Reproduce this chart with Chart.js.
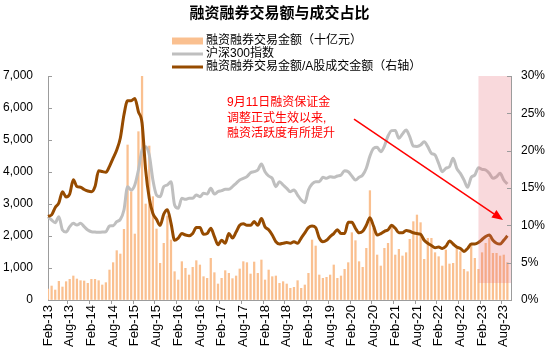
<!DOCTYPE html>
<html>
<head>
<meta charset="utf-8">
<script src="https://cdn.jsdelivr.net/npm/chart.js@4"></script>
<style>
  html, body { margin: 0; padding: 0; background: #fff; }
  #wrap { width: 547px; height: 354px; }
</style>
</head>
<body>
<div id="wrap"><canvas id="chart" width="547" height="354"></canvas></div>
<script>
const FONT = "'Liberation Sans', Arial, 'Noto Sans CJK SC', sans-serif";
const AXIS = '#9c9c9c';

// monthly categories, Feb-13 .. Oct-23
const monthNames = ['Jan', 'Feb', 'Mar', 'Apr', 'May', 'Jun', 'Jul', 'Aug', 'Sep', 'Oct', 'Nov', 'Dec'];
const allMonths = [];
for (let yr = 13; yr <= 23; yr++) {
  monthNames.forEach(m => allMonths.push(m + '-' + yr));
}
const categories = allMonths.slice(1, 130);

const xTickLabels = ['Feb-13', 'Aug-13', 'Feb-14', 'Aug-14', 'Feb-15', 'Aug-15', 'Feb-16', 'Aug-16',
  'Feb-17', 'Aug-17', 'Feb-18', 'Aug-18', 'Feb-19', 'Aug-19', 'Feb-20', 'Aug-20', 'Feb-21', 'Aug-21',
  'Feb-22', 'Aug-22', 'Feb-23', 'Aug-23'];

// 融资融券交易金额（十亿元）, from Feb-13
const marginAmount = [
  344, 437, 312, 583, 406, 573, 646, 750, 656, 604, 594, 521,
  646, 646, 604, 469, 542, 937, 1167, 1542, 1437, 2208, 4844, 3385,
  2062, 5260, 7400, 3000, 4812, 3229, 2219, 1146, 1771, 2625, 1875, 885,
  625, 1198, 990, 781, 1021, 1229, 1094, 729, 677, 1302, 854, 500,
  677, 917, 833, 667, 750, 969, 1198, 1167, 812, 1187, 833, 1250,
  625, 937, 729, 750, 521, 573, 500, 365, 396, 604, 365, 469,
  833, 1875, 1687, 781, 677, 708, 781, 1094, 677, 750, 958, 1167,
  2104, 1854, 1198, 1021, 1615, 3417, 2240, 1406, 1062, 1615, 1771, 2300,
  1406, 1583, 1375, 1479, 1896, 2448, 2656, 2417, 1271, 1927, 1927, 1479,
  1354, 1062, 1562, 1125, 1146, 1615, 1510, 958, 885, 1750, 1302, 958,
  1479, 1771, 1927, 1458, 1458, 1375, 1406, 1167
];

// 沪深300指数
const hs300 = [
  2604, 2500, 2417, 2604, 2187, 2125, 2292, 2396, 2344, 2396, 2292, 2187,
  2135, 2125, 2115, 2125, 2135, 2312, 2322, 2448, 2520, 2812, 3542, 3437,
  3594, 4062, 4687, 4792, 4531, 3750, 3281, 3229, 3542, 3594, 3698, 2969,
  2864, 3177, 3146, 3177, 3177, 3281, 3229, 3333, 3312, 3490, 3312, 3385,
  3417, 3458, 3458, 3542, 3646, 3750, 3802, 3854, 3979, 4010, 4062, 4250,
  4010, 3875, 3802, 3542, 3698, 3594, 3490, 3385, 3437, 3281, 3125, 3042,
  3437, 3625, 3698, 3698, 3833, 3802, 3854, 3833, 3875, 3906, 4042, 4010,
  3875, 3750, 3833, 3906, 4115, 4500, 4740, 4771, 4635, 4812, 5125, 5292,
  5300, 5052, 5187, 5312, 5104, 4812, 4800, 4840, 4948, 4792, 4583, 4531,
  4271, 4010, 4115, 4167, 4427, 4115, 3958, 3750, 3521, 3833, 3906, 4135,
  4083, 4062, 3958, 3802, 3854, 3958, 3750, 3625
];

// 融资融券交易金额/A股成交金额 (%)
const marginRatio = [
  11.2, 11.4, 12.4, 13.0, 14.5, 13.8, 14.2, 16.1, 15.2, 15.1, 14.8, 14.6,
  14.5, 15.2, 17.3, 17.2, 17.1, 17.9, 19.0, 20.1, 21.7, 24.8, 26.7, 26.7,
  27.0, 25.2, 23.7, 17.4, 13.6, 11.6, 10.8, 10.0, 11.5, 12.1, 10.3, 8.0,
  8.3, 8.9, 8.7, 8.6, 8.9, 9.7, 9.7, 8.8, 8.9, 9.6, 8.5, 7.4,
  8.0, 7.6, 8.9, 8.3, 9.1, 10.0, 10.2, 10.0, 10.0, 10.5, 10.0, 10.9,
  9.8, 9.4, 8.7, 7.8, 7.5, 7.6, 7.7, 7.6, 7.8, 7.6, 8.3, 9.0,
  9.7, 9.9, 9.7, 8.3, 7.8, 8.0, 8.5, 8.9, 9.4, 8.9, 8.9, 10.4,
  10.4, 9.6, 9.0, 9.2, 10.0, 11.0, 9.9, 8.7, 8.9, 9.2, 9.4, 10.0,
  9.6, 9.0, 9.0, 9.3, 9.2, 9.0, 8.9, 8.8, 8.0, 7.6, 7.3, 7.0,
  7.1, 6.9, 7.2, 7.9, 7.5, 7.1, 6.9, 6.5, 6.9, 7.5, 7.5, 7.7,
  8.1, 8.5, 8.7, 8.0, 7.6, 7.5, 8.0, 8.6
];

const seriesNames = ['融资融券交易金额（十亿元）', '沪深300指数', '融资融券交易金额/A股成交金额（右轴）'];
const noteLines = ['9月11日融资保证金', '调整正式生效以来,', '融资活跃度有所提升'];

// annotation anchors in data units (category index, left-axis value)
const shadeFrom = 'Jan-23';
const shadeRange = [530, 7000];
const notePos = [49.5, 6160];
const arrowFrom = [84.6, 5650];
const arrowTo = [125.8, 2500];

const colors = { bar: '#FAC090', hs: '#BFBFBF', ratio: '#964B00' };

Chart.defaults.font.family = FONT;
Chart.defaults.color = '#000';

const overlay = {
  id: 'overlay',
  afterDatasetsDraw(chart) {
    const { ctx, chartArea } = chart;
    const x = chart.scales.x, y = chart.scales.y;
    const left = x.getPixelForValue(categories.indexOf(shadeFrom));
    const top = y.getPixelForValue(shadeRange[1]);
    const bottom = y.getPixelForValue(shadeRange[0]);
    ctx.save();
    ctx.fillStyle = 'rgba(232,108,120,0.26)';
    ctx.fillRect(left, top, chartArea.right - left, bottom - top);
    ctx.restore();
  },
  afterDraw(chart) {
    const { ctx, chartArea } = chart;
    const x = chart.scales.x, y = chart.scales.y, y1 = chart.scales.y1;
    ctx.save();

    // tick marks pointing into the plot
    ctx.strokeStyle = AXIS;
    ctx.lineWidth = 1;
    y.ticks.forEach((t, i) => {
      const py = Math.round(y.getPixelForTick(i)) + 0.5;
      ctx.beginPath();
      ctx.moveTo(chartArea.left, py);
      ctx.lineTo(chartArea.left + 4, py);
      ctx.stroke();
    });
    y1.ticks.forEach((t, i) => {
      const py = Math.round(y1.getPixelForTick(i)) + 0.5;
      ctx.beginPath();
      ctx.moveTo(chartArea.right, py);
      ctx.lineTo(chartArea.right - 4, py);
      ctx.stroke();
    });

    // title
    ctx.fillStyle = '#000';
    ctx.font = 'bold 15px ' + FONT;
    ctx.textAlign = 'center';
    ctx.textBaseline = 'middle';
    ctx.fillText('融资融券交易额与成交占比', (chartArea.left + chartArea.right) / 2, 14);

    // legend
    const rows = [41, 54, 67];
    const swatch = [
      { color: colors.bar, width: 7 },
      { color: colors.hs, width: 3 },
      { color: colors.ratio, width: 3 }
    ];
    ctx.font = '12px ' + FONT;
    ctx.textAlign = 'left';
    rows.forEach((ry, i) => {
      ctx.strokeStyle = swatch[i].color;
      ctx.lineWidth = swatch[i].width;
      ctx.beginPath();
      ctx.moveTo(172, ry);
      ctx.lineTo(203, ry);
      ctx.stroke();
      ctx.fillStyle = '#000';
      ctx.fillText(seriesNames[i], 206, ry);
    });

    // note
    ctx.fillStyle = '#FF0000';
    ctx.font = '12px ' + FONT;
    const nx = x.getPixelForValue(notePos[0]);
    const ny = y.getPixelForValue(notePos[1]);
    noteLines.forEach((line, i) => ctx.fillText(line, nx, ny + i * 15.5));

    // arrow
    const ax0 = x.getPixelForValue(arrowFrom[0]), ay0 = y.getPixelForValue(arrowFrom[1]);
    const ax1 = x.getPixelForValue(arrowTo[0]), ay1 = y.getPixelForValue(arrowTo[1]);
    const ang = Math.atan2(ay1 - ay0, ax1 - ax0);
    const head = 11, half = 4.5;
    const bx = ax1 - head * Math.cos(ang), by = ay1 - head * Math.sin(ang);
    ctx.strokeStyle = '#FF0000';
    ctx.lineWidth = 1.5;
    ctx.beginPath();
    ctx.moveTo(ax0, ay0);
    ctx.lineTo(bx, by);
    ctx.stroke();
    ctx.beginPath();
    ctx.moveTo(ax1, ay1);
    ctx.lineTo(bx + half * Math.sin(ang), by - half * Math.cos(ang));
    ctx.lineTo(bx - half * Math.sin(ang), by + half * Math.cos(ang));
    ctx.closePath();
    ctx.fill();

    ctx.restore();
  }
};

const isShown = idx => xTickLabels.includes(categories[idx]);

new Chart(document.getElementById('chart'), {
  data: {
    labels: categories,
    datasets: [
      {
        type: 'bar',
        label: seriesNames[0],
        data: marginAmount,
        backgroundColor: colors.bar,
        barThickness: 1.6,
        yAxisID: 'y',
        order: 3
      },
      {
        type: 'line',
        label: seriesNames[1],
        data: hs300,
        borderColor: colors.hs,
        borderWidth: 3,
        pointRadius: 0,
        cubicInterpolationMode: 'monotone',
        yAxisID: 'y',
        order: 2
      },
      {
        type: 'line',
        label: seriesNames[2],
        data: marginRatio,
        borderColor: colors.ratio,
        borderWidth: 3,
        pointRadius: 0,
        cubicInterpolationMode: 'monotone',
        yAxisID: 'y1',
        order: 1
      }
    ]
  },
  options: {
    responsive: false,
    animation: false,
    devicePixelRatio: 1,
    layout: { padding: { top: 76, left: 0, right: 0, bottom: 0 } },
    plugins: {
      legend: { display: false },
      title: { display: false },
      tooltip: { enabled: false }
    },
    scales: {
      x: {
        type: 'category',
        offset: false,
        grid: {
          drawOnChartArea: false,
          tickLength: 4,
          color: ctx => isShown(ctx.index) ? AXIS : 'rgba(0,0,0,0)'
        },
        border: { color: AXIS },
        ticks: {
          autoSkip: false,
          minRotation: 90,
          maxRotation: 90,
          padding: 1,
          font: { size: 13 },
          callback: (val, idx) => isShown(idx) ? categories[idx] : ''
        },
        afterFit: s => { s.height = 54; }
      },
      y: {
        position: 'left',
        min: 0,
        max: 7000,
        grid: { drawOnChartArea: false, drawTicks: false },
        border: { color: AXIS },
        ticks: {
          stepSize: 1000,
          padding: 15,
          font: { size: 12 },
          callback: v => v.toLocaleString('en-US')
        },
        afterFit: s => { s.width = 48; }
      },
      y1: {
        position: 'right',
        min: 0,
        max: 30,
        grid: { drawOnChartArea: false, drawTicks: false },
        border: { color: AXIS },
        ticks: {
          stepSize: 5,
          padding: 10,
          font: { size: 12 },
          callback: v => v + '%'
        },
        afterFit: s => { s.width = 36; }
      }
    }
  },
  plugins: [overlay]
});
</script>
</body>
</html>
